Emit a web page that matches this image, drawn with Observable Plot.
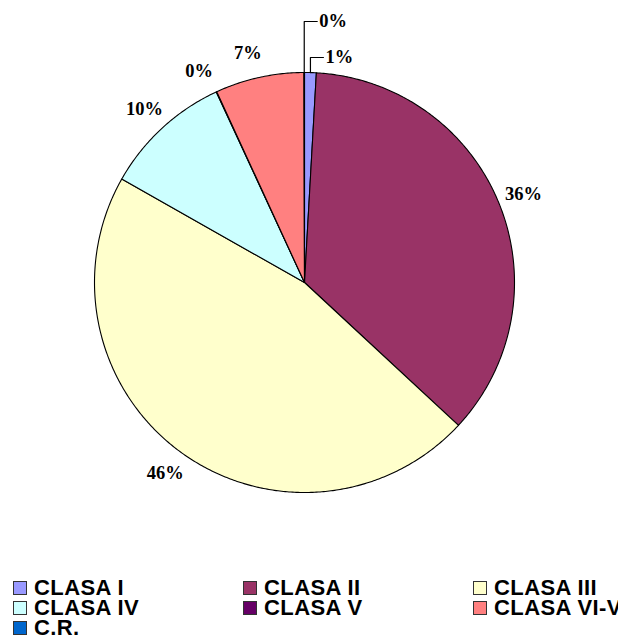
<!DOCTYPE html>
<html>
<head>
<meta charset="utf-8">
<script src="https://cdn.jsdelivr.net/npm/d3@7"></script>
<script src="https://cdn.jsdelivr.net/npm/@observablehq/plot@0.6"></script>
<style>
  html, body { margin: 0; padding: 0; background: #fff; overflow: hidden; width: 618px; height: 640px; }
  #wrap { position: relative; width: 618px; height: 640px; overflow: hidden; }
  #legend {
    position: absolute; left: 13px; top: 578px;
    display: grid; grid-template-columns: 230px 230px 230px; grid-auto-rows: 20px;
    font-family: "Liberation Sans", Arial, sans-serif; font-weight: bold; font-size: 22px;
    line-height: 20px; letter-spacing: 0.4px; color: #000; white-space: nowrap;
  }
  .item { display: flex; align-items: center; height: 20px; }
  .sw { width: 14px; height: 14px; box-sizing: border-box; border: 1px solid #333; margin-right: 7px; flex: none; }
</style>
</head>
<body>
<div id="wrap">
  <div id="chart"></div>
  <div id="legend"></div>
</div>
<script>
// ---- data ----
const categories = ["CLASA I", "CLASA II", "CLASA III", "CLASA IV", "CLASA V", "CLASA VI-VII", "C.R."];
const shares = [0.9, 36.0, 46.3, 9.9, 0.04, 6.82, 0.04];
const colors = ["#9999FF", "#993366", "#FFFFCC", "#CCFFFF", "#660066", "#FF8080", "#0066CC"];

// ---- layout ----
const W = 618, H = 560;
const cx = 304, cy = 282, R = 210, labelR = 236;
const total = d3.sum(shares);

const pie = [];
let cum = 0;
shares.forEach((v, i) => {
  const a0 = cum / total * 2 * Math.PI;
  cum += v;
  const a1 = cum / total * 2 * Math.PI;
  pie.push({cat: categories[i], value: v, a0, a1, mid: (a0 + a1) / 2, index: i});
});

const pt = (a, r) => [cx + r * Math.sin(a), cy - r * Math.cos(a)];

// slice polygons
const slicePts = [];
pie.forEach(s => {
  slicePts.push({cat: s.cat, x: cx, y: cy});
  const n = Math.max(2, Math.ceil((s.a1 - s.a0) / (Math.PI / 360)));
  for (let k = 0; k <= n; k++) {
    const a = s.a0 + (s.a1 - s.a0) * k / n;
    const [x, y] = pt(a, R);
    slicePts.push({cat: s.cat, x, y});
  }
});

// labels (tiny slices at the top are called out with leader lines)
const labels = [];
const leaders = [];
const topCallouts = pie.filter(s => s.value / total < 0.02 &&
  (s.mid < 0.1 || s.mid > 2 * Math.PI - 0.1));
topCallouts.sort((a, b) => a.index - b.index);
const rises = [225, 261];
pie.forEach(s => {
  const txt = Math.round(s.value / total * 100) + "%";
  const ci = topCallouts.indexOf(s);
  if (ci >= 0) {
    const [ax, ay] = pt(s.mid, R);
    const ly = cy - rises[ci];
    leaders.push({cat: s.cat, x: ax, y: ay}, {cat: s.cat, x: ax, y: ly}, {cat: s.cat, x: ax + 13, y: ly});
    labels.push({x: ax + 15, y: ly, text: txt, anchor: "start"});
  } else {
    // small outward nudge against the neighbouring callouts
    const a = s.value / total < 0.02 ? s.mid - 0.03 : (s.value / total < 0.08 ? s.mid - 0.025 : s.mid);
    const [x, y] = pt(a, labelR);
    labels.push({x, y, text: txt, anchor: "middle"});
  }
});

const font = "'Liberation Serif', 'Times New Roman', serif";
const chart = Plot.plot({
  width: W, height: H,
  margin: 0,
  x: {domain: [0, W], range: [0, W], axis: null},
  y: {domain: [0, H], range: [0, H], axis: null},
  color: {domain: categories, range: colors},
  marks: [
    Plot.line(slicePts, {x: "x", y: "y", z: "cat", fill: "cat", stroke: "#000", strokeWidth: 1.1, curve: "linear-closed", strokeLinejoin: "round"}),
    Plot.line(leaders, {x: "x", y: "y", z: "cat", stroke: "#000", strokeWidth: 1.2}),
    Plot.text(labels.filter(d => d.anchor === "middle"), {x: "x", y: "y", text: "text", textAnchor: "middle", lineAnchor: "middle",
      fontFamily: font, fontWeight: "bold", fontSize: 18.5, fill: "#000"}),
    Plot.text(labels.filter(d => d.anchor === "start"), {x: "x", y: "y", text: "text", textAnchor: "start", lineAnchor: "middle",
      fontFamily: font, fontWeight: "bold", fontSize: 18.5, fill: "#000"})
  ]
});
document.getElementById("chart").appendChild(chart);

// legend
const legend = document.getElementById("legend");
categories.forEach((c, i) => {
  const item = document.createElement("div");
  item.className = "item";
  const sw = document.createElement("span");
  sw.className = "sw";
  sw.style.background = colors[i];
  const t = document.createElement("span");
  t.textContent = c;
  item.appendChild(sw);
  item.appendChild(t);
  legend.appendChild(item);
});
</script>
</body>
</html>
